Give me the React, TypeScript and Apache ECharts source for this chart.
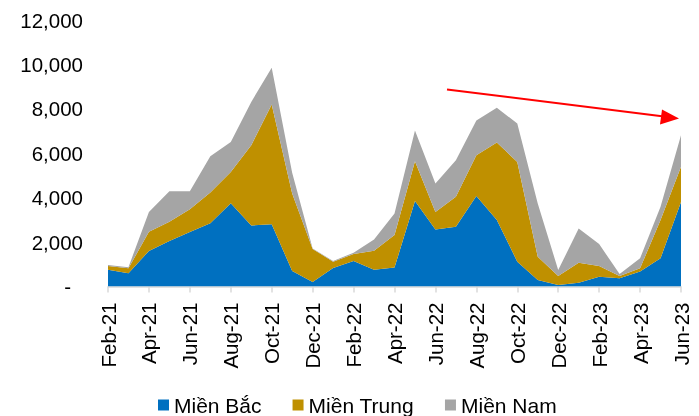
import React, { useEffect, useRef } from "react";
import * as echarts from "echarts";

const categories = [
  "Feb-21", "Mar-21", "Apr-21", "May-21", "Jun-21", "Jul-21", "Aug-21", "Sep-21", "Oct-21", "Nov-21", "Dec-21",
  "Jan-22", "Feb-22", "Mar-22", "Apr-22", "May-22", "Jun-22", "Jul-22", "Aug-22", "Sep-22", "Oct-22", "Nov-22", "Dec-22",
  "Jan-23", "Feb-23", "Mar-23", "Apr-23", "May-23", "Jun-23",
];

const mienBac = [750, 600, 1600, 2050, 2450, 2850, 3750, 2750, 2800, 700, 200, 830, 1150, 750, 850, 3850, 2570, 2690, 4070, 2990, 1120, 290, 70, 170, 440, 370, 670, 1270, 3810];
const mienTrung = [170, 220, 860, 860, 1030, 1380, 1410, 3610, 5400, 3490, 1490, 290, 310, 860, 1470, 1790, 790, 1350, 1840, 3490, 4490, 1050, 400, 900, 480, 100, 150, 1720, 1580];
const mienNam = [50, 50, 900, 1380, 810, 1630, 1350, 1950, 1650, 930, 20, 30, 60, 510, 970, 1390, 1280, 1650, 1570, 1570, 1730, 2400, 270, 1540, 990, 90, 450, 600, 1420];

const seriesNames = ["Miền Bắc", "Miền Trung", "Miền Nam"];
const seriesColors = ["#0070C0", "#BF9000", "#A5A5A5"];

const FONT = "'Liberation Sans', Arial, sans-serif";

export default function App() {
  const ref = useRef<HTMLDivElement>(null);
  useEffect(() => {
    if (!ref.current) return;
    const chart = echarts.init(ref.current, null, { renderer: "svg" });
    const data = [mienBac, mienTrung, mienNam];
    chart.setOption({
      animation: false,
      textStyle: { fontFamily: FONT },
      grid: { left: 108, right: 18, top: 20, bottom: 129.5, containLabel: false },
      legend: {
        left: 153,
        top: 389.5,
        itemWidth: 11,
        itemHeight: 11,
        itemGap: 31,
        icon: "rect",
        textStyle: { fontSize: 21, color: "#000", fontFamily: FONT },
        data: seriesNames,
      },
      xAxis: {
        type: "category",
        data: categories,
        boundaryGap: false,
        axisLine: { lineStyle: { color: "#D9D9D9", width: 1.5 } },
        axisTick: { show: true, interval: 1, length: 6, lineStyle: { color: "#D9D9D9", width: 1.5 } },
        axisLabel: { interval: 1, rotate: 90, margin: 16, fontSize: 20.5, color: "#000", fontFamily: FONT },
      },
      yAxis: {
        type: "value",
        min: 0,
        max: 12000,
        interval: 2000,
        axisLine: { show: false },
        axisTick: { show: false },
        splitLine: { show: false },
        axisLabel: {
          margin: 25,
          fontSize: 20.5,
          color: "#000",
          fontFamily: FONT,
          formatter: (v: number) => (v === 0 ? "{z|-}" : v.toLocaleString("en-US")),
          rich: { z: { fontSize: 20.5, color: "#000", fontFamily: FONT, padding: [0, 12, 0, 0] } },
        },
      },
      series: seriesNames.map((name, i) => ({
        name,
        type: "line",
        stack: "total",
        data: data[i],
        symbol: "none",
        lineStyle: { width: 0 },
        areaStyle: { color: seriesColors[i], opacity: 1 },
        itemStyle: { color: seriesColors[i] },
      })),
      graphic: [
        {
          type: "line",
          shape: { x1: 447, y1: 89.5, x2: 664, y2: 116.5 },
          style: { stroke: "#FF0000", lineWidth: 2 },
        },
        {
          type: "polygon",
          shape: { points: [[662, 109.5], [679, 118.5], [660, 124.5]] },
          style: { fill: "#FF0000" },
        },
      ],
    });
    return () => chart.dispose();
  }, []);
  return <div ref={ref} style={{ position: "fixed", left: 0, top: 0, width: 699, height: 416 }} />;
}
